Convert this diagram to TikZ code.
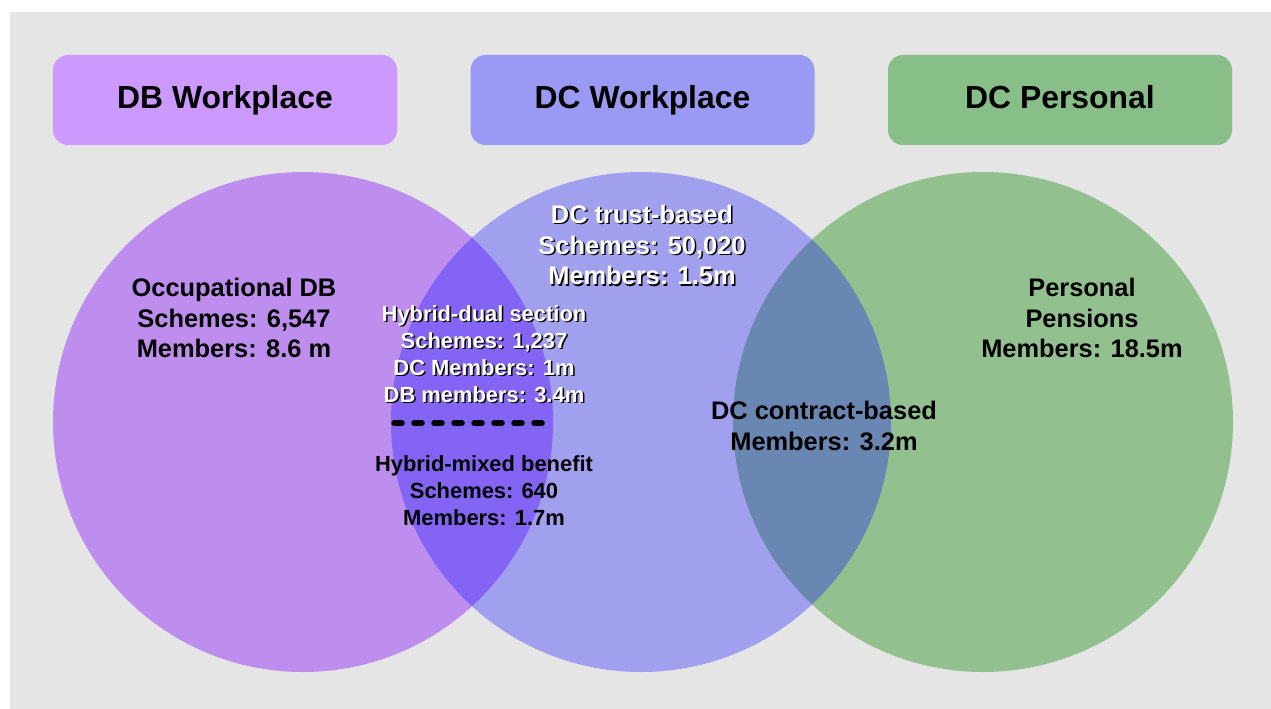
\documentclass[tikz,border=0pt]{standalone}
\usepackage{fontspec}
\setmainfont{Liberation Sans}
\definecolor{bgc}{HTML}{E5E5E5}
\definecolor{boxA}{HTML}{CC99FF}
\definecolor{boxB}{HTML}{9A9AF5}
\definecolor{boxC}{HTML}{88BF88}
\definecolor{cirA}{HTML}{BE8EEE}
\definecolor{cirB}{HTML}{A0A0EE}
\definecolor{cirC}{HTML}{92C18F}
\definecolor{ovAB}{HTML}{8464F4}
\definecolor{ovBC}{HTML}{6A87B3}
\begin{document}
\begin{tikzpicture}[x=1bp,y=-1bp,
  headbox/.style={rounded corners=15bp, minimum width=344bp, minimum height=90bp,
    inner sep=0pt, text height=24bp, text depth=6bp,
    font=\fontsize{32}{38}\selectfont\bfseries, text=black},
  biglabel/.style={align=center, inner sep=0pt, font=\fontsize{25.5}{31}\selectfont\bfseries},
  smalllabel/.style={align=center, inner sep=0pt, font=\fontsize{22}{27}\selectfont\bfseries},
  sep/.style={line width=5.5bp, dash pattern=on 8bp off 12bp, line cap=round}]
\useasboundingbox (0,0) rectangle (1271,709);
\fill[white] (0,0) rectangle (1271,709);
\fill[bgc] (10,12) rectangle (1271,709);
% header boxes
\node[headbox, fill=boxA] (dbw) at (225,100) {DB Workplace};
\node[headbox, fill=boxB] (dcw) at (642.5,100) {DC Workplace};
\node[headbox, fill=boxC] (dcp) at (1060,100) {DC Personal};
% circles
\coordinate (cA) at (303,422);
\coordinate (cB) at (641,422);
\coordinate (cC) at (983,422);
\fill[cirA] (cA) circle[radius=250];
\fill[cirB] (cB) circle[radius=250];
\fill[cirC] (cC) circle[radius=250];
\begin{scope}
  \clip (cA) circle[radius=250];
  \fill[ovAB] (cB) circle[radius=250];
\end{scope}
\begin{scope}
  \clip (cC) circle[radius=250];
  \fill[ovBC] (cB) circle[radius=250];
\end{scope}
% labels
\node[biglabel] (occ) at (234,318) {Occupational DB\\Schemes: 6,547\\Members: 8.6 m};
\node[biglabel] (pp) at (1082,318) {Personal\\Pensions\\Members: 18.5m};
\node[biglabel] (dcc) at (824,426) {DC contract-based\\Members: 3.2m};
\node[biglabel, text=black] (dctS) at (643.5,246.5) {DC trust-based\\Schemes: 50,020\\Members: 1.5m};
\node[biglabel, text=white] (dct) at (642,245) {DC trust-based\\Schemes: 50,020\\Members: 1.5m};
\node[smalllabel, text=black] (hdsS) at (485.5,355.5) {Hybrid-dual section\\Schemes: 1,237\\DC Members: 1m\\DB members: 3.4m};
\node[smalllabel, text=white] (hds) at (484,354) {Hybrid-dual section\\Schemes: 1,237\\DC Members: 1m\\DB members: 3.4m};
\node[smalllabel] (hmb) at (484,491) {Hybrid-mixed benefit\\Schemes: 640\\Members: 1.7m};
% separator
\coordinate (sepL) at (394,423);
\coordinate (sepR) at (546,423);
\draw[sep] (sepL) -- (sepR);
\end{tikzpicture}
\end{document}
